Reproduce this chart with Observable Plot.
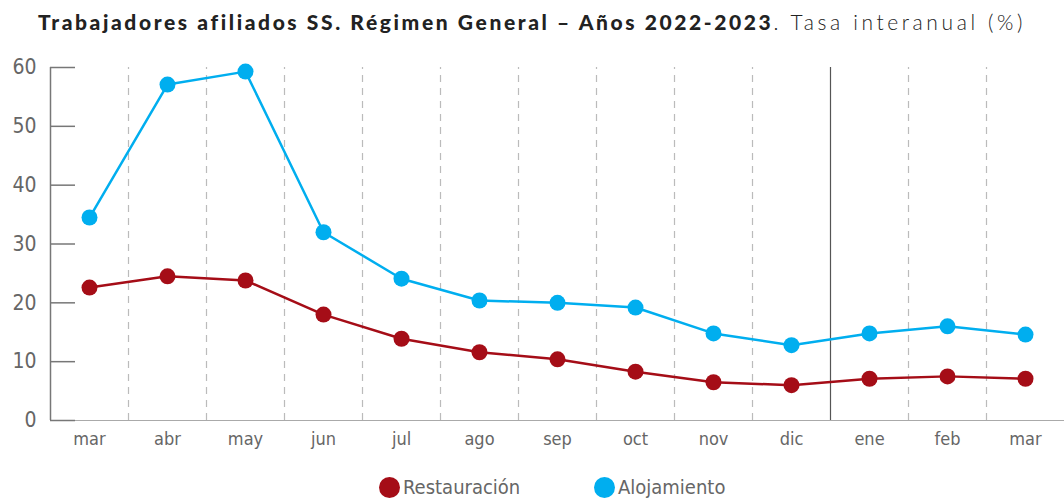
<!DOCTYPE html>
<html>
<head>
<meta charset="utf-8">
<script src="https://cdn.jsdelivr.net/npm/d3@7"></script>
<script src="https://cdn.jsdelivr.net/npm/@observablehq/plot@0.6"></script>
<style>
  body { margin: 0; background: #fff; width: 1064px; height: 499px; overflow: hidden; }
  #title { height: 45px; box-sizing: border-box; padding-top: 9px; text-align: center; font-family: Lato, "Open Sans", sans-serif; font-size: 21px; color: #222; white-space: nowrap; }
  #title b { font-weight: 900; letter-spacing: 2.6px; }
  #title span { font-weight: 300; letter-spacing: 3.6px; }
  #legend { position: relative; height: 23px; font-family: "DejaVu Sans Condensed", sans-serif; font-stretch: condensed; font-size: 20px; color: #666; }
  .item { position: absolute; top: 0; display: flex; align-items: center; line-height: 23px; }
  .sw { width: 21px; height: 21px; border-radius: 50%; margin-right: 3px; }
</style>
</head>
<body>
<div id="title"><b>Trabajadores afiliados SS. Régimen General – Años 2022-2023</b><span>. Tasa interanual (%)</span></div>
<div id="chart"></div>
<div id="legend"></div>
<script>
const months = ["mar","abr","may","jun","jul","ago","sep","oct","nov","dic","ene","feb","mar"];
const restauracion = [22.6, 24.5, 23.8, 18.0, 13.9, 11.6, 10.4, 8.3, 6.5, 6.0, 7.1, 7.5, 7.1];
const alojamiento = [34.5, 57.1, 59.3, 32.0, 24.1, 20.4, 20.0, 19.2, 14.8, 12.8, 14.8, 16.0, 14.6];
const seriesNames = ["Restauración", "Alojamiento"];
const colors = ["#a50d17", "#00aeef"];
const yTicks = [0, 10, 20, 30, 40, 50, 60];
const yearBreak = 9.5; // between dic and ene

const data = [];
months.forEach((m, i) => {
  data.push({i, serie: seriesNames[0], v: restauracion[i]});
  data.push({i, serie: seriesNames[1], v: alojamiento[i]});
});
const idx = months.map((_, i) => i);
const dashed = idx.slice(1).map(i => i - 0.5).filter(b => b !== yearBreak);

const axisFont = `"DejaVu Sans Condensed", sans-serif`;

const chart = Plot.plot({
  width: 1064,
  height: 431,
  marginTop: 22,
  marginBottom: 56,
  marginLeft: 50,
  marginRight: 0,
  style: { fontFamily: axisFont, fontStretch: "condensed", color: "#666", background: "#fff" },
  x: { type: "linear", domain: [-0.5, months.length - 0.5] },
  y: { domain: [0, 60] },
  color: { domain: seriesNames, range: colors },
  marks: [
    Plot.ruleX(dashed, { y1: 0, y2: 60, stroke: "#bbb", strokeWidth: 1.2, strokeDasharray: "7,6" }),
    Plot.ruleX([yearBreak], { y1: 0, y2: 60, stroke: "#555", strokeWidth: 1.2 }),
    Plot.ruleY([0], { stroke: "#aaa", strokeWidth: 1.2 }),
    Plot.ruleX([-0.5], { y1: 0, y2: 60, stroke: "#777", strokeWidth: 1.5 }),
    Plot.axisY({ ticks: yTicks, tickSize: 25, dx: 25, tickFormat: () => "", stroke: "#777", strokeWidth: 1.5, label: null }),
    Plot.axisY({ ticks: yTicks, tickSize: 0, tickPadding: 14, fontSize: 21, fill: "#666", label: null }),
    Plot.axisX({ ticks: idx, tickFormat: i => months[i], tickSize: 0, tickPadding: 12, fontSize: 18, fill: "#666", label: null }),
    Plot.line(data, { x: "i", y: "v", z: "serie", stroke: "serie", strokeWidth: 2.5 }),
    Plot.dot(data, { x: "i", y: "v", fill: "serie", r: 8 })
  ]
});
document.getElementById("chart").appendChild(chart);

const legend = document.getElementById("legend");
const lefts = [379, 594];
seriesNames.forEach((s, k) => {
  const it = document.createElement("div");
  it.className = "item";
  it.style.left = lefts[k] + "px";
  it.innerHTML = `<div class="sw" style="background:${colors[k]}"></div><div>${s}</div>`;
  legend.appendChild(it);
});
</script>
</body>
</html>
